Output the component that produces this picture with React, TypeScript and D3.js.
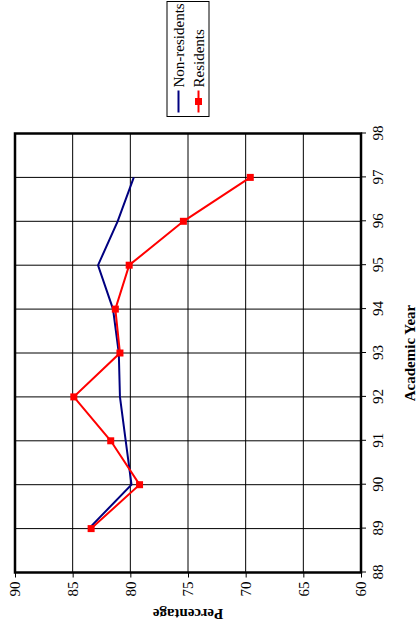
import { useEffect, useMemo, useRef } from 'react';
import * as d3 from 'd3';

const years = [89, 90, 91, 92, 93, 94, 95, 96, 97];
const nonResidents = [83.6, 79.9, 80.4, 80.9, 81.0, 81.5, 82.8, 81.1, 79.7];
const residents = [83.4, 79.2, 81.7, 84.9, 80.9, 81.3, 80.1, 75.4, 69.6];
const yearTicks = [88, 89, 90, 91, 92, 93, 94, 95, 96, 97, 98];
const percentTicks = [60, 65, 70, 75, 80, 85, 90];
const seriesNames = ['Non-residents', 'Residents'];
const seriesColors = ['#000080', '#FF0000'];

const WIDTH = 417;
const HEIGHT = 627;
// the chart is drawn upright and then turned a quarter turn counter-clockwise
const ORIGIN = { x: 15, y: 572.5 };
const plotW = 439;
const plotH = 346;
const FONT = '"Liberation Serif", "Times New Roman", serif';

export default function App() {
    const xAxisEl = useRef<SVGGElement>(null);
    const yAxisEl = useRef<SVGGElement>(null);

    const xScale = useMemo(() => d3.scaleLinear().domain([88, 98]).range([0, plotW]), []);
    const yScale = useMemo(() => d3.scaleLinear().domain([60, 90]).range([plotH, 0]), []);

    const line = useMemo(
        () =>
            d3
                .line<number>()
                .x((_, i) => xScale(years[i]))
                .y((d) => yScale(d)),
        [xScale, yScale]
    );

    useEffect(() => {
        if (xAxisEl.current) {
            const g = d3
                .select(xAxisEl.current)
                .call(
                    d3
                        .axisBottom(xScale)
                        .tickValues(yearTicks)
                        .tickFormat(d3.format('d'))
                        .tickSizeInner(5)
                        .tickSizeOuter(0)
                        .tickPadding(6)
                );
            g.select('.domain').remove();
            g.attr('font-family', FONT).attr('font-size', 15);
            g.selectAll('line').attr('stroke-width', 1);
        }
        if (yAxisEl.current) {
            const g = d3
                .select(yAxisEl.current)
                .call(
                    d3
                        .axisLeft(yScale)
                        .tickValues(percentTicks)
                        .tickFormat(d3.format('d'))
                        .tickSizeInner(5)
                        .tickSizeOuter(0)
                        .tickPadding(4)
                );
            g.select('.domain').remove();
            g.attr('font-family', FONT).attr('font-size', 15);
        }
    }, [xScale, yScale]);

    const series = [nonResidents, residents];

    return (
        <svg
            width={WIDTH}
            height={HEIGHT}
            viewBox={`0 0 ${WIDTH} ${HEIGHT}`}
            style={{ position: 'absolute', left: 0, top: 0, background: '#fff' }}
        >
            <g transform={`translate(${ORIGIN.x}, ${ORIGIN.y}) rotate(-90)`}>
                {/* gridlines */}
                {yearTicks.map((t) => (
                    <line
                        key={`gx${t}`}
                        x1={xScale(t)}
                        x2={xScale(t)}
                        y1={0}
                        y2={plotH}
                        stroke="#000"
                        strokeWidth={1}
                    />
                ))}
                {percentTicks.map((t) => (
                    <line
                        key={`gy${t}`}
                        x1={0}
                        x2={plotW}
                        y1={yScale(t)}
                        y2={yScale(t)}
                        stroke="#000"
                        strokeWidth={1}
                    />
                ))}
                <g ref={xAxisEl} transform={`translate(0, ${plotH})`} />
                <g ref={yAxisEl} />

                {series.map((values, i) => (
                    <path
                        key={`s${i}`}
                        d={line(values) ?? ''}
                        fill="none"
                        stroke={seriesColors[i]}
                        strokeWidth={2}
                    />
                ))}
                {residents.map((v, i) => (
                    <rect
                        key={`m${i}`}
                        x={xScale(years[i]) - 3.5}
                        y={yScale(v) - 3.5}
                        width={7}
                        height={7}
                        fill={seriesColors[1]}
                    />
                ))}

                <rect x={0} y={0} width={plotW} height={plotH} fill="none" stroke="#000" strokeWidth={2.5} />

                <text
                    x={plotW / 2}
                    y={plotH + 54}
                    textAnchor="middle"
                    fontFamily={FONT}
                    fontSize={15}
                    fontWeight="bold"
                >
                    Academic Year
                </text>
                <text
                    transform={`translate(-36.5, ${plotH / 2}) rotate(-90)`}
                    textAnchor="middle"
                    fontFamily={FONT}
                    fontSize={15}
                    fontWeight="bold"
                >
                    Percentage
                </text>

                {/* legend */}
                <g transform="translate(456, 152)">
                    <rect x={0} y={0} width={115} height={42} fill="#fff" stroke="#000" strokeWidth={1} />
                    {seriesNames.map((name, i) => (
                        <g key={name} transform={`translate(0, ${11.5 + i * 20})`}>
                            <line x1={4} x2={26} y1={0} y2={0} stroke={seriesColors[i]} strokeWidth={2} />
                            {i === 1 && <rect x={11.5} y={-3.5} width={7} height={7} fill={seriesColors[i]} />}
                            <text x={29} y={0} dy="0.35em" fontFamily={FONT} fontSize={15}>
                                {name}
                            </text>
                        </g>
                    ))}
                </g>
            </g>
        </svg>
    );
}
